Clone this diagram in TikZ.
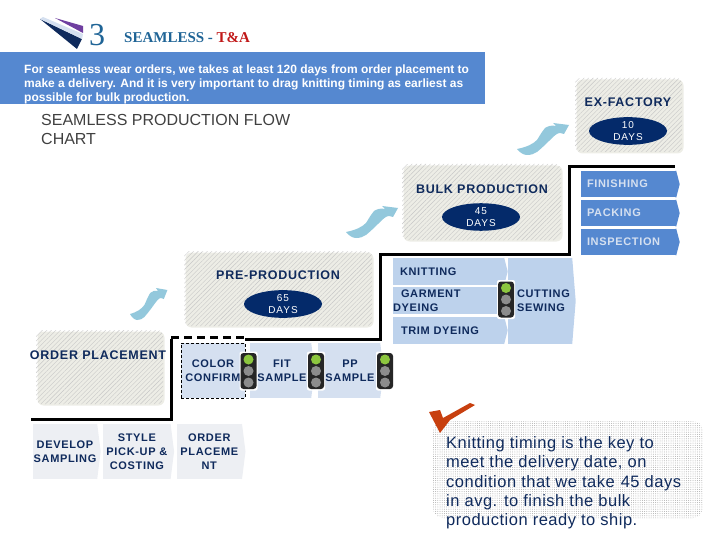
\documentclass[tikz,border=0pt]{standalone}
\usepackage{fontspec}
\setmainfont{Liberation Sans}
\newfontfamily\headfont{Liberation Serif}
\newfontfamily\spacedfont[LetterSpace=6]{Liberation Sans}
\newfontfamily\pillfont[LetterSpace=10]{Liberation Sans}
\newfontfamily\notefont[LetterSpace=3]{Liberation Sans}
\usepackage{xcolor}
\usetikzlibrary{positioning,patterns.meta,shapes.geometric,shadows}
\definecolor{bandblue}{HTML}{5588D0}
\definecolor{paleblue}{HTML}{BDD2EC}
\definecolor{mistblue}{HTML}{D5E0F0}
\definecolor{fogblue}{HTML}{EDEFF3}
\definecolor{navytext}{HTML}{0F2A5C}
\definecolor{pillnavy}{HTML}{042A6A}
\definecolor{swooshblue}{HTML}{93C8DC}
\definecolor{shadowsand}{HTML}{EDEDE6}
\definecolor{headblue}{HTML}{1F6496}
\definecolor{headred}{HTML}{C01818}
\definecolor{tickred}{HTML}{C8400F}
\definecolor{lampgreen}{HTML}{8CC63F}
\definecolor{logopurple}{HTML}{6F3FA0}

\begin{document}
\begin{tikzpicture}[
  x=1pt, y=-1pt,
  node distance=2pt,
  phasebox/.style={rounded corners=6pt, inner sep=0pt, drop shadow={shadow xshift=1.5pt, shadow yshift=-1.5pt, fill=shadowsand, opacity=1}, fill=white, pattern={Lines[angle=45,distance=3.2pt,line width=.4pt]}, pattern color=black!22},
  phasetext/.style={text=navytext, font=\spacedfont\bfseries\fontsize{12.5}{15}\selectfont, inner sep=0pt},
  daypill/.style={ellipse, fill=pillnavy, text=white, align=center, inner sep=0pt, minimum width=78pt, minimum height=22pt, font=\pillfont\fontsize{10}{12.5}\selectfont},
  stepbar/.style={rectangle, fill=#1, inner ysep=0pt, inner xsep=0pt, align=center, text=navytext, font=\spacedfont\bfseries\fontsize{11}{14}\selectfont,
    append after command={\pgfextra{\fill[#1] ([xshift=-.5pt]\tikzlastnode.north east) -- (\tikzlastnode.north east) -- ([xshift=3.5pt]\tikzlastnode.east) -- (\tikzlastnode.south east) -- ([xshift=-.5pt]\tikzlastnode.south east) -- cycle;}}},
  finishbar/.style={stepbar=bandblue, text=mistblue, minimum height=26.5pt, text width=83pt, inner xsep=6pt, align=left},
  greybar/.style={stepbar=fogblue, minimum height=55pt},
  mistbar/.style={stepbar=mistblue, minimum height=55pt},
  palebar/.style={stepbar=paleblue, minimum height=27pt, text width=97pt, inner xsep=7pt, align=left},
  stair/.style={line width=3pt},
  lightcase/.pic={
    \fill[white, rounded corners=2pt] (-9,-19.5) rectangle (9,19.5);
    \fill[black!85, rounded corners=3pt] (-8,-18) rectangle (8,18);
    \fill[lampgreen] (0,-11.5) circle (5pt);
    \fill[black!45] (0,0) circle (5pt);
    \fill[black!45] (0,11.5) circle (5pt);
  },
  swoosh/.pic={
    \fill[swooshblue] (0,0) .. controls (3,4) and (7,6) .. (10,6) .. controls (14,6) and (17,5) .. (20,3) .. controls (26,-2) and (30,-6) .. (33,-9) .. controls (37,-13) and (40,-16) .. (43,-16) -- (47,-15) -- (52,-24) -- (36,-26) -- (39,-23) .. controls (35,-24) and (31,-23) .. (28,-21) .. controls (24,-16) and (22,-12) .. (20,-9) .. controls (16,-5) and (10,-2) .. cycle;
  }
]
\useasboundingbox (0,0) rectangle (720,540);

% header
\fill[navytext] (40,19) -- (82,39) -- (77,49) -- cycle;
\fill[mistblue] (43,17) -- (83,34) -- (82,39) -- (40,19) -- cycle;
\fill[logopurple] (55,18) -- (83,26) -- (83,33) -- cycle;
\node[text=headblue, font=\headfont\fontsize{32}{32}\selectfont, inner sep=0pt] (chapter) at (97,35) {3};
\node[anchor=west, inner sep=0pt, font=\headfont\bfseries\fontsize{15}{18}\selectfont] (heading) at (124,37.5) {\textcolor{headblue}{SEAMLESS - }\textcolor{headred}{T\&A}};

\fill[bandblue] (0,52) rectangle (485,104);
\node[anchor=north west, inner sep=0pt, align=left, text=white, font=\bfseries\fontsize{12}{14.3}\selectfont] (intro) at (24,64.5) {For seamless wear orders, we takes at least 120 days from order placement to\\make a delivery. And it is very important to drag knitting timing as earliest as\\possible for bulk production.};
\node[anchor=north west, inner sep=0pt, align=left, text=black!75, font=\fontsize{16}{19.3}\selectfont] (flowtitle) at (41,114) {SEAMLESS PRODUCTION FLOW\\CHART};

% phases
\node[phasebox, minimum width=107pt, minimum height=74pt] (factorybox) at (628.5,115) {};
\node[phasetext] (factorytext) at (628,102) {EX-FACTORY};
\node[daypill] (factorypill) at (628,131) {10\\DAYS};

\node[phasebox, minimum width=159pt, minimum height=76pt] (bulkbox) at (481.5,202) {};
\node[phasetext] (bulktext) at (482,189) {BULK PRODUCTION};
\node[daypill] (bulkpill) at (481,217) {45\\DAYS};

\node[phasebox, minimum width=188pt, minimum height=75pt] (prebox) at (278,288.5) {};
\node[phasetext] (pretext) at (278,275) {PRE-PRODUCTION};
\node[daypill] (prepill) at (283,304) {65\\DAYS};

\node[phasebox, minimum width=127pt, minimum height=74pt] (orderbox) at (99.5,367) {};
\node[phasetext] (ordertext) at (98,355) {ORDER PLACEMENT};

\pic at (517,149) {swoosh};
\pic at (346,232) {swoosh};
\pic[xscale=.72] at (130,314) {swoosh};

% stairs
\coordinate (stairA) at (31,419);
\coordinate (stairB) at (171,419);
\coordinate (stairC) at (171,339);
\coordinate (dashA) at (171,337);
\coordinate (dashB) at (245,337);
\coordinate (stairD) at (245,339);
\coordinate (stairE) at (380,339);
\coordinate (stairF) at (380,254);
\coordinate (stairG) at (569,254);
\coordinate (stairH) at (569,167);
\coordinate (stairI) at (675,167);
\draw[stair] (stairA) -- (stairB) -- (stairC);
\draw[stair, dash pattern=on 8pt off 5pt] (dashA) -- (dashB);
\draw[stair] (stairD) -- (stairE) -- (stairF) -- (stairG) -- (stairH) -- (stairI);

% finishing stack
\node[finishbar] (finishing) at (628.5,184.2) {FINISHING};
\node[finishbar, below=of finishing] (packing) {PACKING};
\node[finishbar, below=of packing] (inspection) {INSPECTION};

% bulk stack
\node[palebar] (knitting) at (448.5,271.5) {KNITTING};
\node[palebar, below=of knitting] (garment) {\hspace*{1pt}GARMENT\\\hspace*{-7pt}DYEING};
\node[palebar, below=of garment] (trim) {\hspace*{1pt}TRIM DYEING};
\node[stepbar=paleblue, minimum height=86pt, text width=64pt, align=left] (cutting) at (540,301) {\hspace*{9pt}CUTTING\\\hspace*{9pt}SEWING};
\pic at (506,299.5) {lightcase};

% pre-production row
\node[rectangle, fill=mistblue, draw=black, densely dashed, inner sep=0pt, align=center, text=navytext, font=\spacedfont\bfseries\fontsize{11}{14}\selectfont, minimum width=64pt, minimum height=55pt] (color) at (213,370.5) {COLOR\\CONFIRM};
\node[mistbar, minimum width=61pt] (fit) at (280.5,370.5) {\hspace*{3pt}FIT\\\hspace*{3pt}SAMPLE};
\node[mistbar, minimum width=62pt] (pp) at (349,370.5) {\hspace*{2pt}PP\\\hspace*{2pt}SAMPLE};
\pic at (248.5,371) {lightcase};
\pic at (316,371) {lightcase};
\pic at (385,371) {lightcase};

% order row
\node[greybar, minimum width=64pt] (develop) at (65,451.5) {DEVELOP\\SAMPLING};
\node[greybar, minimum width=67pt, right=6pt of develop] (style) {STYLE\\PICK-UP \&\\COSTING};
\node[greybar, minimum width=65pt, right=6pt of style] (placing) {ORDER\\PLACEME\\NT};

% note
\node[rounded corners=10pt, minimum width=270pt, minimum height=97pt, inner sep=0pt, pattern={Dots[distance=2.2pt,radius=.5pt]}, pattern color=black!32] (notebox) at (568,469.5) {};
\fill[tickred] (429,412) -- (440,410) -- (443,418) -- (470,403) -- (475,405) -- (450,420) -- (440,433) -- cycle;
\node[anchor=north west, inner sep=0pt, align=left, text=navytext, font=\notefont\fontsize{16.5}{19.3}\selectfont] (notetext) at (446,436.5) {Knitting timing is the key to\\meet the delivery date, on\\condition that we take\hspace{1pt} 45 days\\in avg. to finish the bulk\\production ready to ship.};
\end{tikzpicture}
\end{document}
